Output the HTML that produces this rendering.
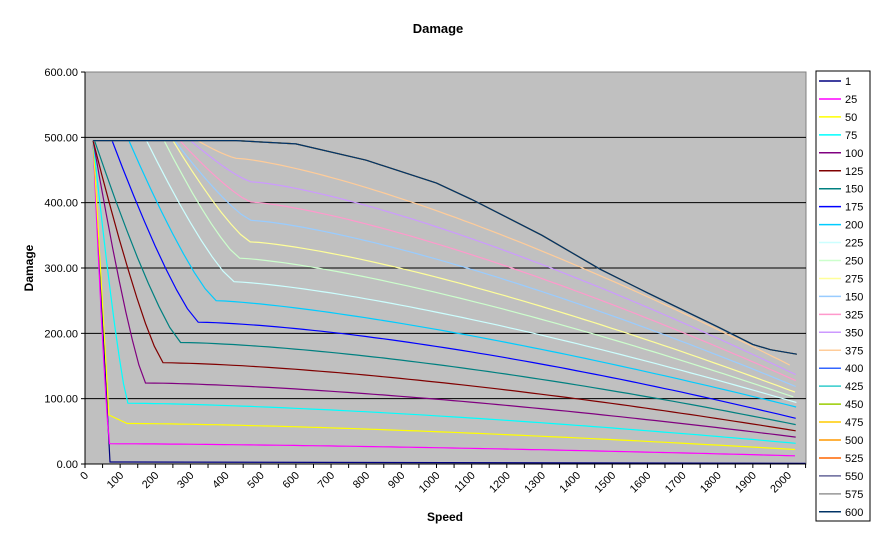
<!DOCTYPE html>
<html><head><meta charset="utf-8"><style>
body{margin:0;background:#fff;}
svg text{font-family:"Liberation Sans",Arial,sans-serif;}
</style></head><body>
<svg id="c" width="877" height="542" xmlns="http://www.w3.org/2000/svg">
<rect width="877" height="542" fill="#fff"/>
<text x="438" y="33" font-size="13" font-weight="bold" text-anchor="middle">Damage</text>
<rect x="85" y="72" width="721" height="392" fill="#C0C0C0" stroke="#808080" stroke-width="1"/>
<g id="grid"></g>
<g id="series"></g>
<g id="axes"></g>
<text x="33" y="268" font-size="12" font-weight="bold" text-anchor="middle" transform="rotate(-90 33 268)">Damage</text>
<text x="445" y="521" font-size="12" font-weight="bold" text-anchor="middle">Speed</text>
<rect x="816" y="71" width="54" height="450" fill="#fff" stroke="#000"/>
<g id="legend"></g>
</svg>
<script>
var NS="http://www.w3.org/2000/svg";
function el(p,t,a,txt){var e=document.createElementNS(NS,t);for(var k in a)e.setAttribute(k,a[k]);if(txt!==undefined)e.textContent=txt;p.appendChild(e);return e;}
var X=function(s){return 85+s*0.3515;}, Y=function(v){return 464-v*0.6533;};
var grid=document.getElementById('grid'),axes=document.getElementById('axes');
for(var v=0;v<=600;v+=100){var y=Y(v);
 if(v>0&&v<600)el(grid,'line',{x1:85,x2:806,y1:y,y2:y,stroke:'#000','stroke-width':1});
 el(axes,'line',{x1:81,x2:85,y1:y,y2:y,stroke:'#000'});
 el(axes,'text',{x:78,y:y+4,'font-size':11,'text-anchor':'end'},v.toFixed(2));}
el(axes,'line',{x1:85,x2:85,y1:72,y2:464,stroke:'#000'});
el(axes,'line',{x1:85,x2:806,y1:464,y2:464,stroke:'#000'});
for(var j=0;j<=41;j++){var x=85+j*17.575;el(axes,'line',{x1:x,x2:x,y1:464,y2:468,stroke:'#000'});
 if(j%2==0){var s=j*50;var tx=x+4,ty=476;el(axes,'text',{x:tx,y:ty,'font-size':11,'text-anchor':'end',transform:'rotate(-45 '+tx+' '+ty+')'},s);}}
var labels=['1','25','50','75','100','125','150','175','200','225','250','275','150','325','350','375','400','425','450','475','500','525','550','575','600'];
var cols=['#000080','#FF00FF','#FFFF00','#00FFFF','#800080','#800000','#008080','#0000FF','#00CCFF','#CCFFFF','#CCFFCC','#FFFF99','#99CCFF','#FF99CC','#CC99FF','#FFCC99','#3366FF','#33CCCC','#99CC00','#FFCC00','#FF9900','#FF6600','#666699','#969696','#003366'];
var lg=document.getElementById('legend');
for(var i=0;i<25;i++){var y=81+i*17.95;el(lg,'line',{x1:819,x2:841,y1:y,y2:y,stroke:cols[i],'stroke-width':1.5});
 el(lg,'text',{x:845,y:y+4,'font-size':11},labels[i]);}
var hi={8:[125,373,250,87],9:[175,424,279,94],10:[225,440,315,101],11:[250,470,340,109],12:[255,472,373,118],13:[270,472,401,127],14:[300,472,432,136],15:[320,430,468,146]};
var sg=document.getElementById('series');
function curve(i){var pts=[];
 if(i==0){return [[23,495],[71,3],[2050,1]];}
 if(i>=16){return [[23,495],[430,495],[600,490],[800,465],[1000,430],[1100,405],[1300,350],[1466,298],[1600,262],[1800,210],[1900,183],[1950,175],[2025,168]];}
 var sk,vk,s0,end,p;
 if(hi[i]){s0=hi[i][0];sk=hi[i][1];vk=hi[i][2];end=hi[i][3];p=1.35;}
 else{sk=50*i-28;vk=31*i;if(i==1)sk=70;if(i==2){sk=120;vk=62;}s0=Math.max(23,sk-245);end=9.5*i+3;p=1.5;}
 pts.push([23,495]);if(s0>23)pts.push([s0,495]);
 if(i==2){pts.push([68,75]);}
 else{for(var k=1;k<=8;k++){var u=k/8;pts.push([s0+(sk-s0)*u, vk+(495-vk)*Math.pow(1-u,1.25)]);}}
 pts.push([sk,vk]);
 for(var s=sk+25;s<=2025;s+=25){var t=(s-sk)/(2025-sk);pts.push([s,vk-(vk-end)*Math.pow(t,p)]);}
 return pts;}
for(var i=0;i<25;i++){var p=curve(i).map(function(q){return X(q[0]).toFixed(1)+','+Y(q[1]).toFixed(1);}).join(' ');
 el(sg,'polyline',{points:p,fill:'none',stroke:cols[i],'stroke-width':1.2});}
</script>
</body></html>
